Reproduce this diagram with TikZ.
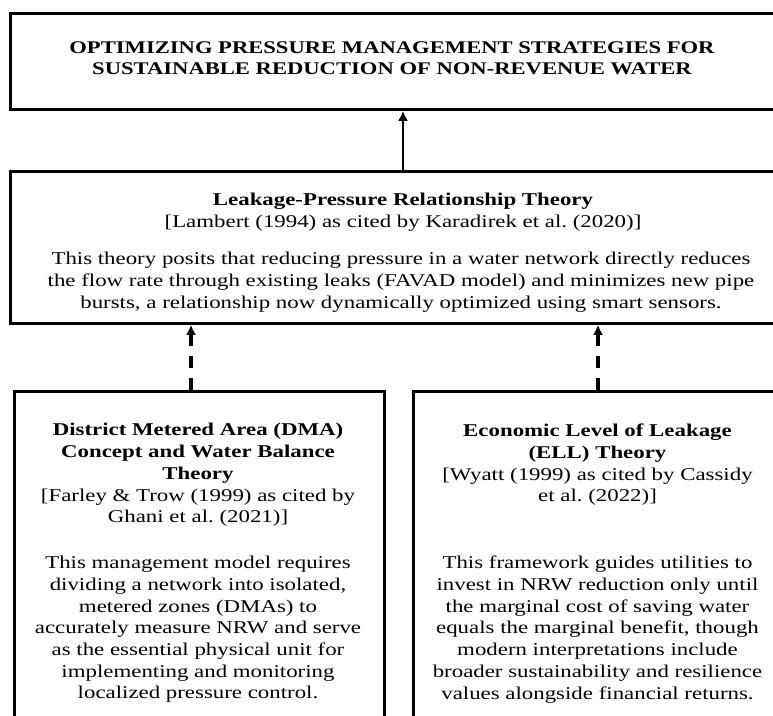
\documentclass[tikz,border=0pt]{standalone}
\usepackage{fontspec}
\setmainfont{Liberation Serif}[FakeStretch=1.27]
\usetikzlibrary{arrows.meta}
\frenchspacing
\begin{document}
\begin{tikzpicture}[x=1pt,y=-1pt,
  box/.style={draw, line width=2.8pt, rectangle, inner sep=0pt, anchor=north west},
  txt/.style={align=center, inner sep=0pt, font=\fontsize{18}{21.7}\selectfont},
  ttl/.style={align=center, inner sep=0pt, font=\fontsize{17.8}{21}\selectfont\bfseries},
  solidarrow/.style={line width=2.8pt, -{Latex[length=10pt,width=10pt]}},
  dasharrow/.style={line width=3.6pt, dash pattern=on 12pt off 10pt, -{Latex[length=10pt,width=10pt]}}]
\useasboundingbox (0,0) rectangle (773,715);
\clip (0,0) rectangle (773,715);
% boxes
\node[box, minimum width=766pt, minimum height=96pt] (top) at (9,12) {};
\node[box, minimum width=784pt, minimum height=152pt] (leak) at (9,170) {};
\node[box, minimum width=370pt, minimum height=360pt] (dma) at (13,390) {};
\node[box, minimum width=371pt, minimum height=360pt] (ell) at (412,390) {};
% texts
\node[ttl] (ttltext) at (392,58) {OPTIMIZING PRESSURE MANAGEMENT STRATEGIES FOR\\SUSTAINABLE REDUCTION OF NON-REVENUE WATER};
\node[txt] (leakhead) at (403,212) {\textbf{Leakage-Pressure Relationship Theory}\\{}[Lambert (1994) as cited by Karadirek et al.\ (2020)]};
\node[txt] (leakbody) at (401,282) {This theory posits that reducing pressure in a water network directly reduces\\the flow rate through existing leaks (FAVAD model) and minimizes new pipe\\bursts, a relationship now dynamically optimized using smart sensors.};
\node[txt] (dmahead) at (198,475) {\textbf{District Metered Area (DMA)}\\\textbf{Concept and Water Balance}\\\textbf{Theory}\\{}[Farley \& Trow (1999) as cited by\\Ghani et al.\ (2021)]};
\node[txt] (dmabody) at (198,629.5) {This management model requires\\dividing a network into isolated,\\metered zones (DMAs) to\\accurately measure NRW and serve\\as the essential physical unit for\\implementing and monitoring\\localized pressure control.};
\node[txt] (ellhead) at (597.5,465) {\textbf{Economic Level of Leakage}\\\textbf{(ELL) Theory}\\{}[Wyatt (1999) as cited by Cassidy\\et al.\ (2022)]};
\node[txt] (ellbody) at (597.5,629.5) {This framework guides utilities to\\invest in NRW reduction only until\\the marginal cost of saving water\\equals the marginal benefit, though\\modern interpretations include\\broader sustainability and resilience\\values alongside financial returns.};
% connectors
\coordinate (ax1) at (403,0);
\coordinate (ax2) at (191,0);
\coordinate (ax3) at (598,0);
\draw[solidarrow] (leak.north -| ax1) -- (top.south -| ax1);
\draw[dasharrow] (dma.north -| ax2) -- (leak.south -| ax2);
\draw[dasharrow] (ell.north -| ax3) -- (leak.south -| ax3);
\end{tikzpicture}
\end{document}
